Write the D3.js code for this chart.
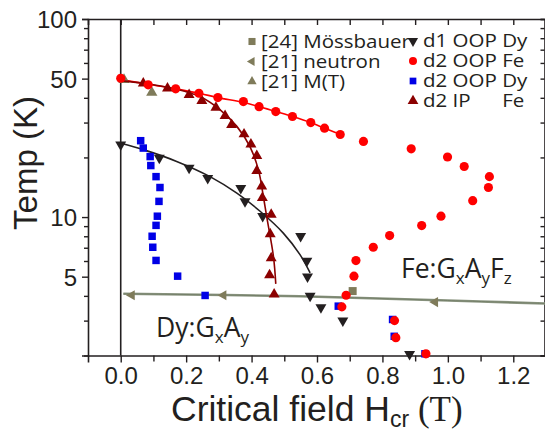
<!DOCTYPE html>
<html><head><meta charset="utf-8">
<script src="https://cdn.jsdelivr.net/npm/d3@7"></script>
<style>body{margin:0;background:#fff}svg{display:block}</style>
</head><body>
<svg id="c" width="545" height="435"></svg>
<script>
// ---- data ----
const d1OopDyH = [0.0, 0.118, 0.209, 0.266, 0.367, 0.380, 0.434, 0.550, 0.569, 0.571, 0.579, 0.612, 0.679, 0.883];
const d1OopDyT = [23.2, 19.9, 17.7, 15.7, 14.0, 12.0, 10.1, 8.0, 6.0, 5.0, 4.0, 3.5, 3.0, 2.03];

const d2OopFeH = [0.0, 0.084, 0.168, 0.239, 0.297, 0.375, 0.423, 0.474, 0.525, 0.581, 0.623, 0.671, 0.742, 0.888, 0.999, 1.050, 1.127, 1.124, 1.076, 0.979, 0.920, 0.822, 0.772, 0.719, 0.713, 0.689, 0.676, 0.837, 0.841, 0.933];
const d2OopFeT = [50.2, 46.5, 44.4, 42.2, 40.1, 38.3, 36.1, 34.1, 32.2, 30.0, 28.1, 26.1, 24.1, 22.1, 20.1, 18.0, 16.0, 14.1, 12.1, 10.1, 9.06, 8.06, 7.04, 6.03, 5.03, 4.03, 3.52, 3.0, 2.46, 2.04];

const d2OopDyH = [0.061, 0.069, 0.090, 0.092, 0.108, 0.120, 0.117, 0.112, 0.108, 0.096, 0.098, 0.108, 0.174, 0.258, 0.665, 0.831, 0.836, 0.930];
const d2OopDyT = [24.3, 22.3, 20.2, 18.2, 16.0, 14.1, 12.0, 10.1, 9.08, 8.0, 7.04, 6.04, 5.03, 4.02, 3.55, 3.04, 2.5, 2.04];

const d2IpFeH = [0.069, 0.143, 0.209, 0.248, 0.291, 0.319, 0.339, 0.377, 0.398, 0.416, 0.416, 0.431, 0.433, 0.460, 0.457, 0.460, 0.455, 0.469];
const d2IpFeT = [47.4, 44.7, 41.4, 38.6, 35.7, 32.4, 29.2, 26.2, 23.3, 20.4, 17.1, 14.3, 12.5, 10.3, 8.2, 6.2, 5.1, 4.07];

const mossH = [0.709];
const mossT = [4.23];
const neutronH = [0.034, 0.314, 0.961];
const neutronT = [4.03, 4.03, 3.72];
const mtH = [0.010, 0.095];
const mtT = [49.3, 42.5];

// fitted guide curves
const fitD1H = [0, 0.069, 0.171, 0.273, 0.355, 0.426, 0.497, 0.548, 0.579];
const fitD1T = [23.6, 21.9, 19.1, 16.0, 13.2, 10.7, 8.3, 6.46, 5.22];
const fitIpH = [0, 0.069, 0.171, 0.242, 0.304, 0.355, 0.395, 0.421, 0.436, 0.446, 0.467, 0.474];
const fitIpT = [48.7, 47.4, 44.2, 40.6, 34.8, 28.7, 22.7, 17.3, 12.7, 10.1, 6.3, 4.6];
const fitFeH = [0, 0.084, 0.168, 0.239, 0.297, 0.375, 0.423, 0.474, 0.525, 0.581, 0.623, 0.671];
const fitFeT = [49.5, 46.8, 44.4, 42.2, 40.1, 37.9, 36.1, 34.1, 32.2, 30.0, 28.1, 26.1];
const neutronLineH = [0.008, 0.548, 0.976, 1.3];
const neutronLineT = [4.10, 3.98, 3.80, 3.66];

const xMajorTicks = [0.0, 0.2, 0.4, 0.6, 0.8, 1.0, 1.2];
const xMinorTicks = [-0.1, 0.1, 0.3, 0.5, 0.7, 0.9, 1.1, 1.3];
const yMajorTicks = [5, 10, 50, 100];
const yMinorTicks = [2, 3, 4, 6, 7, 8, 9, 20, 30, 40, 60, 70, 80, 90];

// ---- layout ----
const svg = d3.select("#c");
const L = 88, R = 546, T = 19, B = 355.5;
const x = d3.scaleLinear().domain([-0.1, 1.3]).range([L, R]);
const y = d3.scaleLog().domain([2, 100]).range([B, T]);
const zip = (a, b) => a.map((v, i) => [v, b[i]]);

const C = {black: "#231f20", red: "#ff0000", blue: "#0000e6", dred: "#8b0000", olive: "#7f7b5a", gray: "#8c9682"};
const tickFont = "'Liberation Sans', Arial, sans-serif";
const txtFont = "'Open Sans', 'Noto Sans', sans-serif";

// axes
function styleAxis(g) {
  g.selectAll("path.domain").attr("stroke", C.black).attr("stroke-width", 1.6);
  g.selectAll(".tick line").attr("stroke", C.black).attr("stroke-width", 1.4);
  g.selectAll(".tick text").attr("fill", C.black).attr("font-family", tickFont).attr("font-size", 24);
}
// bottom
const gb = svg.append("g").attr("transform", `translate(0,${B})`)
  .call(d3.axisBottom(x).tickValues(xMajorTicks).tickFormat(d3.format(".1f")).tickSizeOuter(0).tickSize(7).tickPadding(4));
styleAxis(gb);
svg.append("g").attr("transform", `translate(0,${B})`)
  .call(d3.axisBottom(x).tickValues(xMinorTicks.filter(v => v > -0.1 && v < 1.3)).tickFormat("").tickSizeOuter(0).tickSize(6))
  .call(g => g.select("path.domain").remove()).call(styleAxis);
// top
svg.append("g").attr("transform", `translate(0,${T})`)
  .call(d3.axisTop(x).tickValues(xMajorTicks.concat(xMinorTicks).filter(v => v > -0.1 && v < 1.3)).tickFormat("").tickSizeOuter(0).tickSize(-6))
  .call(styleAxis);
// left
const gl = svg.append("g").attr("transform", `translate(${L},0)`)
  .call(d3.axisLeft(y).tickValues(yMajorTicks).tickFormat(d3.format("d")).tickSizeOuter(0).tickSize(6).tickPadding(5));
styleAxis(gl);
gl.selectAll(".tick text").attr("dy", "0.35em");
svg.append("g").attr("transform", `translate(${L},0)`)
  .call(d3.axisLeft(y).tickValues(yMinorTicks).tickFormat("").tickSizeOuter(0).tickSize(4))
  .call(g => g.select("path.domain").remove()).call(styleAxis);
// right
svg.append("g").attr("transform", `translate(${R - 1.5},0)`)
  .call(d3.axisRight(y).tickValues(yMajorTicks.concat(yMinorTicks)).tickFormat("").tickSizeOuter(0).tickSize(-4))
  .call(styleAxis);

// zero line
svg.append("line").attr("x1", x(0)).attr("x2", x(0)).attr("y1", T).attr("y2", B)
  .attr("stroke", C.black).attr("stroke-width", 1.6);

// curves
const line = d3.line().x(d => x(d[0])).y(d => y(d[1])).curve(d3.curveCatmullRom.alpha(0.5));
svg.append("path").datum(zip(neutronLineH, neutronLineT)).attr("d", line)
  .attr("fill", "none").attr("stroke", C.gray).attr("stroke-width", 2.6);
svg.append("path").datum(zip(neutronLineH, neutronLineT)).attr("d", line)
  .attr("fill", "none").attr("stroke", "#6f7a63").attr("stroke-width", 0.8);
svg.append("path").datum(zip(fitD1H, fitD1T)).attr("d", line)
  .attr("fill", "none").attr("stroke", C.black).attr("stroke-width", 1.6);
svg.append("path").datum(zip(fitFeH, fitFeT)).attr("d", line)
  .attr("fill", "none").attr("stroke", C.red).attr("stroke-width", 1.6);

// markers
const sym = (type, size) => d3.symbol().type(type).size(size)();
function plot(H, Tv, type, size, color, rot) {
  svg.append("g").selectAll("path").data(zip(H, Tv)).join("path")
    .attr("d", sym(type, size))
    .attr("transform", d => `translate(${x(d[0])},${y(d[1])}) rotate(${rot || 0})`)
    .attr("fill", color);
}
plot(mtH, mtT, d3.symbolTriangle, 55, C.olive, 0);
plot(neutronH, neutronT, d3.symbolTriangle, 45, C.olive, -90);
plot(d2OopDyH, d2OopDyT, d3.symbolSquare, 56, C.blue, 0);
plot(d1OopDyH, d1OopDyT, d3.symbolTriangle, 52, C.black, 180);
plot(d2IpFeH, d2IpFeT, d3.symbolTriangle, 52, C.dred, 0);
svg.append("path").datum(zip(fitIpH, fitIpT)).attr("d", line)
  .attr("fill", "none").attr("stroke", C.dred).attr("stroke-width", 1.6);
plot(mossH, mossT, d3.symbolSquare, 64, C.olive, 0);
plot(d2OopFeH, d2OopFeT, d3.symbolCircle, 66, C.red, 0);

// legend (text slightly widened, as in the reference)
const LEG_FS = 18, LEG_SX = 1.14;
const legLeft = [
  {t: "[24] Mössbauer", type: d3.symbolSquare, size: 50, c: C.olive, rot: 0},
  {t: "[21] neutron", type: d3.symbolTriangle, size: 34, c: C.olive, rot: -90},
  {t: "[21] M(T)", type: d3.symbolTriangle, size: 38, c: C.olive, rot: 0}
];
const legRight = [
  {t: "d1 OOP Dy", type: d3.symbolTriangle, size: 45, c: C.black, rot: 180},
  {t: "d2 OOP Fe", type: d3.symbolCircle, size: 50, c: C.red, rot: 0},
  {t: "d2 OOP Dy", type: d3.symbolSquare, size: 45, c: C.blue, rot: 0},
  {t: "d2 IP", type: d3.symbolTriangle, size: 50, c: C.dred, rot: 0}
];
function legText(tx, yy, s, anchor) {
  return svg.append("text").attr("transform", `translate(${tx},${yy}) scale(${LEG_SX},1)`)
    .attr("dy", "0.36em").attr("text-anchor", anchor || "start")
    .attr("font-family", txtFont).attr("font-size", LEG_FS).attr("fill", C.black).text(s);
}
function legend(items, mx, tx, y0) {
  items.forEach((d, i) => {
    const yy = y0 + i * 20;
    svg.append("path").attr("d", sym(d.type, d.size)).attr("fill", d.c)
      .attr("transform", `translate(${mx},${yy}) rotate(${d.rot})`);
    legText(tx, yy, d.t);
  });
}
legend(legLeft, 252, 261, 41.5);
legend(legRight, 413, 423, 41);
// align "Fe" under the "Fe" of "d2 OOP Fe"
const probe = svg.append("text").attr("font-family", txtFont).attr("font-size", LEG_FS).text("d2 OOP Fe");
const feEnd = 423 + LEG_SX * probe.node().getComputedTextLength();
probe.remove();
legText(feEnd, 101, "Fe", "end");

// annotations
function chem(xp, yp, parts) {
  const t = svg.append("text").attr("x", xp).attr("y", yp)
    .attr("font-family", txtFont).attr("font-size", 26.5).attr("fill", C.black);
  parts.forEach(p => {
    if (p.sub) t.append("tspan").attr("font-size", 17).attr("dy", 6).text(p.s);
    else t.append("tspan").attr("dy", p.after ? -6 : 0).text(p.s);
  });
}
chem(156, 337, [{s: "Dy:G"}, {s: "x", sub: true}, {s: "A", after: true}, {s: "y", sub: true}]);
chem(401, 278, [{s: "Fe:G"}, {s: "x", sub: true}, {s: "A", after: true}, {s: "y", sub: true}, {s: "F", after: true}, {s: "z", sub: true}]);

// axis titles
svg.append("text").attr("transform", `translate(37,${163}) rotate(-90)`)
  .attr("text-anchor", "middle").attr("font-family", tickFont).attr("font-size", 33).attr("fill", C.black)
  .text("Temp (K)");
const xt = svg.append("text").attr("x", 171).attr("y", 421)
  .attr("font-family", tickFont).attr("font-size", 35.5).attr("fill", C.black);
xt.append("tspan").text("Critical field H");
xt.append("tspan").attr("font-size", 23).attr("dy", 6).text("cr");
xt.append("tspan").attr("font-family", "'Liberation Serif', 'Times New Roman', serif").attr("font-size", 35).attr("dy", -6).text(" (T)");
</script>
</body></html>
